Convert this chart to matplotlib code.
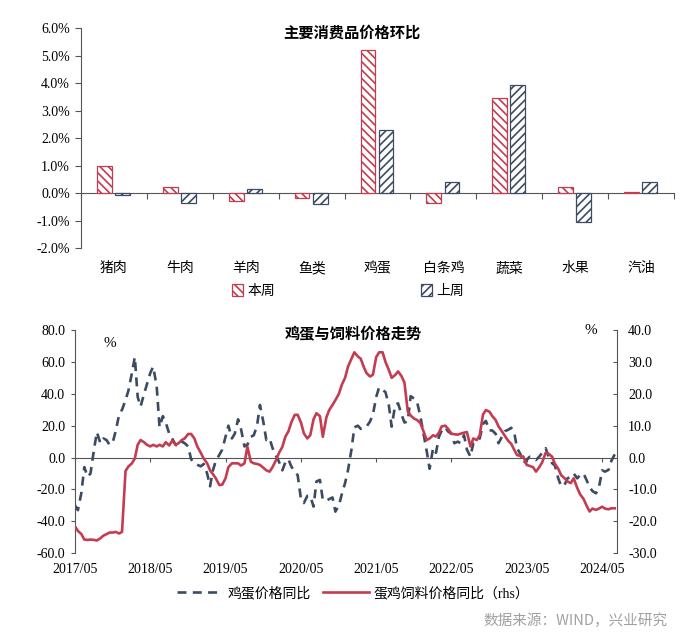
import numpy as np
import pandas as pd
import matplotlib
matplotlib.use('Agg')
import matplotlib.pyplot as plt
import matplotlib.dates as mdates
from matplotlib.ticker import FuncFormatter

plt.rcParams['font.family'] = ['Liberation Serif', 'Noto Sans CJK SC']
plt.rcParams['axes.unicode_minus'] = False
plt.rcParams['hatch.linewidth'] = 1.2

# 主要消费品价格环比 (%)
categories = ['猪肉', '牛肉', '羊肉', '鱼类', '鸡蛋', '白条鸡', '蔬菜', '水果', '汽油']
this_week = [1.00, 0.24, -0.29, -0.18, 5.19, -0.34, 3.45, 0.24, 0.04]
last_week = [-0.06, -0.36, 0.16, -0.40, 2.30, 0.40, 3.95, -1.05, 0.40]

# 鸡蛋与饲料价格走势 - readings taken twice a month from 2017/05
series_start = '2017-05-01'
egg_yoy = [
    -30, -33, -22, -6, -12, -10, 5, 16, 9, 12, 11, 8, 10, 17, 27, 30, 36, 42, 53, 63,
    38, 32, 40, 46, 53, 57, 45, 19, 26, 22, 15, 12, 8, 7, 10, 9,
    7, -1, -3.5, -4.5, -5.5, -4, -10, -18, -8, -2, 1.7, 5, 13, 20, 12, 15, 24, 18, 7,
    8, 13, 14, 20, 33, 22, 11, 12, 6, 1, -2.5, -8, -3, -1, -5.5, -9,
    -11, -26, -28.5, -24, -24, -30.7, -15, -14, -26.5, -27, -26, -25, -33.9, -30, -23,
    -16, -8, 5, 19, 20, 18, 18.4, 19.4, 22.6, 27, 38, 44, 42.5, 41, 33, 19.4, 33, 34, 27, 22,
    22.6, 38.5, 37, 35, 26, 16, 4, -7, 6, 3, 13, 17, 19, 16.3, 15, 9, 10, 9, 14, 5,
    0.6, 9, 10, 12, 21, 23, 17, 17, 15, 9, 13, 16.5, 17.5, 18.7, 16,
    6, 2, -3.5, -1.5, 0.5, -0.5, -1.5, 0.6, 3, 5.9, 0.6, -3.5, -5, -13, -18, -17, -13,
    -12, -10, -13, -11, -10, -14, -18.5, -21, -22.4, -19, -8, -8.8, -7.7, -2, 2,
]
feed_yoy = [
    -21.6, -23, -24, -25.7, -25.8, -25.7, -25.8, -26, -25.3, -24.5, -24, -23.5, -23.5,
    -23.3, -23.8, -23.3, -4.2, -2.8, -1.8, -0.3, 4, 5.5, 4.8, 4, 3.5, 4, 3.5, 4, 3.5,
    4.8, 3.8, 5.3, 4, 4.5, 5.5, 6,
    7.4, 7.4, 6.0, 3.5, 1.5, -0.3, -1.8, -4.0, -5.2, -6.5, -8.6, -8.5, -6.5, -3.0, -1.8,
    -1.8, -1.8, -2.5, -1.8, 3.4, -1.3, -1.8, -2.0, -2.3, -3.2, -4.0, -4.4, -3.0, -0.8,
    1.4, 3.4, 6.5, 8.2, 11.0, 13.4,
    13.4, 11, 7.6, 6, 7, 12, 13.9, 13, 6.5, 12.5, 14.9, 16.5, 18, 20, 22.8, 25, 28.5,
    31, 33, 31.7, 31, 28.5, 26.5, 25.4, 26, 31.5, 33, 33, 30, 27.5, 25, 25.9, 27, 25.5, 23.5,
    14.5, 13.2, 12.2, 11.8, 10.8, 8.5, 5.5, 6, 7, 6.6, 7.8, 9.8, 10, 9, 7.5, 7.3, 7.2,
    7.5, 7.8, 8, 3.5, 6, 5.5, 7, 13.5, 14.9, 14.4, 13, 11.8, 9.8, 8.2, 6.8, 5.2, 4.3, 2.5,
    0.8, 0.5, 0.3, -2.3, -2.6, -3, -4.4, -3, -1.5, 1.5, 1.2, 0.3, -2, -3.5, -5.5, -6.5,
    -7.5, -8, -6.5, -9.5, -11.5, -13, -15, -16.9, -16, -16.4, -16, -15.4, -16, -16.2,
    -15.9, -15.9,
]
year_labels = ['2017/05', '2018/05', '2019/05', '2020/05', '2021/05', '2022/05',
               '2023/05', '2024/05']

red = '#C43C50'
navy = '#3C4B62'
axis_grey = '#555555'

fig = plt.figure(figsize=(6.87, 6.4), dpi=100)

# ---------------- top chart: bars ----------------
ax1 = fig.add_axes([0.118, 0.612, 0.863, 0.344])
x = np.arange(len(categories))
w = 0.225
ax1.bar(x - 0.145, this_week, w, facecolor='white', edgecolor=red, hatch='\\\\\\\\',
        linewidth=0.9, label='本周')
ax1.bar(x + 0.13, last_week, w, facecolor='white', edgecolor=navy, hatch='////',
        linewidth=0.9, label='上周')
ax1.set_xlim(-0.5, len(categories) - 0.5)
ax1.set_ylim(-2, 6)
ax1.set_yticks(range(-2, 7))
ax1.yaxis.set_major_formatter(FuncFormatter(lambda v, p: f'{v:.1f}%'))
ax1.set_xticks(x)
ax1.set_xticklabels(categories)
ax1.tick_params(axis='x', length=0, pad=10, labelsize=10)
ax1.tick_params(axis='y', direction='out', length=4, pad=4, labelsize=10,
                color=axis_grey)
for s in ['top', 'right', 'bottom']:
    ax1.spines[s].set_visible(False)
ax1.spines['left'].set_color(axis_grey)

# zero line with category separators
zero1 = ax1.secondary_xaxis(2 / 8)
zero1.set_xticks(np.arange(len(categories) + 1) - 0.5)
zero1.set_xticklabels([])
zero1.tick_params(direction='out', length=4, color=axis_grey)
zero1.spines['bottom'].set_color(axis_grey)

fig.text(0.512, 0.948, '主要消费品价格环比', ha='center', va='center',
         fontsize=11, fontweight='bold')
fig.legend(loc='center', bbox_to_anchor=(0.507, 0.545), ncol=2, frameon=False,
           columnspacing=10.5, handlelength=0.8, handleheight=0.9,
           handletextpad=0.3, fontsize=10)

# ---------------- bottom chart: lines ----------------
dates = pd.date_range(series_start, periods=len(egg_yoy), freq='SMS')
xd = mdates.date2num(dates)
year_ticks = mdates.date2num(pd.to_datetime(year_labels, format='%Y/%m'))

ax2 = fig.add_axes([0.1092, 0.1355, 0.7889, 0.3489])
ax3 = ax2.twinx()
ax2.plot(xd, egg_yoy, color=navy, lw=1.9, dashes=(3.4, 2.4), label='鸡蛋价格同比')
ax3.plot(xd, feed_yoy, color=red, lw=1.9, label='蛋鸡饲料价格同比（rhs）')

ax2.set_xlim(year_ticks[0], mdates.date2num(pd.Timestamp('2024-07-12')))
ax2.set_ylim(-60, 80)
ax3.set_ylim(-30, 40)
ax2.set_yticks(range(-60, 81, 20))
ax3.set_yticks(range(-30, 41, 10))
ax2.yaxis.set_major_formatter(FuncFormatter(lambda v, p: f'{v:.1f}'))
ax3.yaxis.set_major_formatter(FuncFormatter(lambda v, p: f'{v:.1f}'))
ax2.set_xticks(year_ticks)
ax2.set_xticklabels(year_labels)
ax2.tick_params(axis='x', length=0, pad=7, labelsize=10)
ax2.tick_params(axis='y', direction='out', length=3, pad=4, labelsize=10,
                color=axis_grey)
ax3.tick_params(axis='y', direction='in', length=3, pad=8, labelsize=10,
                color=axis_grey)

for s in ['top', 'right', 'bottom']:
    ax2.spines[s].set_visible(False)
for s in ['top', 'left', 'bottom']:
    ax3.spines[s].set_visible(False)
ax2.spines['left'].set_color(axis_grey)
ax3.spines['right'].set_color(axis_grey)

zero2 = ax2.secondary_xaxis(60 / 140)
zero2.set_xticks(year_ticks)
zero2.set_xticklabels([])
zero2.tick_params(direction='out', length=3, color=axis_grey)
zero2.spines['bottom'].set_color(axis_grey)

fig.text(0.514, 0.477, '鸡蛋与饲料价格走势', ha='center', va='center',
         fontsize=11, fontweight='bold')
fig.text(0.160, 0.464, '%', ha='center', va='center', fontsize=11)
fig.text(0.860, 0.483, '%', ha='center', va='center', fontsize=11)

h2, l2 = ax2.get_legend_handles_labels()
h3, l3 = ax3.get_legend_handles_labels()
fig.legend(h2 + h3, l2 + l3, loc='center', bbox_to_anchor=(0.514, 0.0734), ncol=2,
           frameon=False, handlelength=3.3, handletextpad=0.3, columnspacing=0.9,
           fontsize=10)

fig.text(0.971, 0.0297, '数据来源：WIND，兴业研究', ha='right', va='center',
         fontsize=10.5, color='#A0A0A0', family=['Noto Sans CJK SC'])

fig.savefig('out.png', dpi=100)
